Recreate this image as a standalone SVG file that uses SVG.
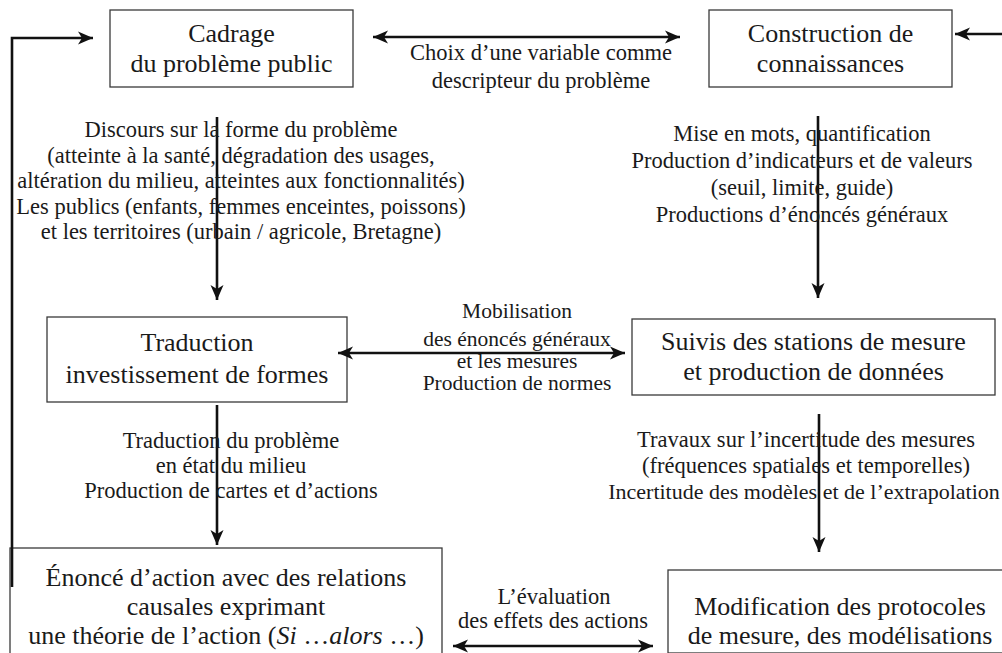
<svg xmlns="http://www.w3.org/2000/svg" width="1002" height="653" viewBox="0 0 1002 653">
<style>
.box{fill:#fff;stroke:#3a3a3a;stroke-width:1.3}
.bt{font-family:"Liberation Serif","Times New Roman",serif;font-size:26px;fill:#1a1a1a;text-anchor:middle}
.lt{font-family:"Liberation Serif","Times New Roman",serif;font-size:22.5px;fill:#1a1a1a;text-anchor:middle}
.ms{font-size:21.5px}
.c{fill:none;stroke:#111;stroke-width:2.6}
</style>
<defs>
<marker id="ah" markerUnits="userSpaceOnUse" markerWidth="16" markerHeight="14" viewBox="0 0 16 14" refX="15" refY="7" orient="auto-start-reverse">
<path d="M0,0.5 L15,7 L0,13.5 L4,7 z" fill="#111"/>
</marker>
</defs>
<rect width="1002" height="653" fill="#fff"/>
<g id="n1"><rect class="box" x="110" y="10" width="243" height="77"/>
<text class="bt" x="231.5" y="42">Cadrage</text><text class="bt" x="231.5" y="72">du problème public</text></g>
<g id="n2"><rect class="box" x="709" y="10" width="243" height="77"/>
<text class="bt" x="830.5" y="42">Construction de</text><text class="bt" x="830.5" y="72">connaissances</text></g>
<g id="n3"><rect class="box" x="47" y="317" width="300" height="85"/>
<text class="bt" x="197" y="351">Traduction</text><text class="bt" x="197" y="383">investissement de formes</text></g>
<g id="n4"><rect class="box" x="632" y="319" width="363" height="76"/>
<text class="bt" x="813.5" y="350">Suivis des stations de mesure</text><text class="bt" x="813.5" y="380">et production de données</text></g>
<g id="n5"><rect class="box" x="10" y="548" width="432" height="112"/>
<text class="bt" x="226" y="586">Énoncé d’action avec des relations</text>
<text class="bt" x="226" y="615">causales exprimant</text>
<text class="bt" x="226" y="644">une théorie de l’action (<tspan font-style="italic">Si</tspan> …<tspan font-style="italic">alors</tspan> …)</text></g>
<g id="n6"><rect class="box" x="668" y="570" width="345" height="83"/>
<text class="bt" x="840" y="615">Modification des protocoles</text><text class="bt" x="840" y="644">de mesure, des modélisations</text></g>
<g id="connectors">
<path class="c" d="M12,587 L12,38 L93,38" marker-end="url(#ah)"/>
<path class="c" d="M1002,34 L955,34" marker-end="url(#ah)"/>
<path class="c" d="M373,37 L680,37" marker-start="url(#ah)" marker-end="url(#ah)"/>
<path class="c" d="M217,117 L217,300" marker-end="url(#ah)"/>
<path class="c" d="M818,116 L818,298" marker-end="url(#ah)"/>
<path class="c" d="M338,353 L625,353" marker-start="url(#ah)" marker-end="url(#ah)"/>
<path class="c" d="M217,405 L217,545" marker-end="url(#ah)"/>
<path class="c" d="M819,414 L819,552" marker-end="url(#ah)"/>
<path class="c" d="M453,646 L653,646" marker-start="url(#ah)" marker-end="url(#ah)"/>
</g>
<g id="labels">
<text class="lt" x="541" y="60">Choix d’une variable comme</text>
<text class="lt" x="541" y="88">descripteur du problème</text>
<text class="lt" x="241" y="137">Discours sur la forme du problème</text>
<text class="lt" x="241" y="162.5">(atteinte à la santé, dégradation des usages,</text>
<text class="lt" x="241" y="188">altération du milieu, atteintes aux fonctionnalités)</text>
<text class="lt" x="241" y="213.5">Les publics (enfants, femmes enceintes, poissons)</text>
<text class="lt" x="241" y="239">et les territoires (urbain / agricole, Bretagne)</text>
<text class="lt" x="802" y="141">Mise en mots, quantification</text>
<text class="lt" x="802" y="168">Production d’indicateurs et de valeurs</text>
<text class="lt" x="802" y="195">(seuil, limite, guide)</text>
<text class="lt" x="802" y="222">Productions d’énoncés généraux</text>
<text class="lt ms" x="517" y="318">Mobilisation</text>
<text class="lt ms" x="517" y="346">des énoncés généraux</text>
<text class="lt ms" x="517" y="368">et les mesures</text>
<text class="lt ms" x="517" y="390">Production de normes</text>
<text class="lt" x="231" y="448">Traduction du problème</text>
<text class="lt" x="231" y="473">en état du milieu</text>
<text class="lt" x="231" y="498">Production de cartes et d’actions</text>
<text class="lt" x="806" y="447">Travaux sur l’incertitude des mesures</text>
<text class="lt" x="806" y="473">(fréquences spatiales et temporelles)</text>
<text class="lt" x="804" y="499" style="font-size:22px">Incertitude des modèles et de l’extrapolation</text>
<text class="lt" x="554" y="604">L’évaluation</text>
<text class="lt" x="553" y="628">des effets des actions</text>
</g>
</svg>
